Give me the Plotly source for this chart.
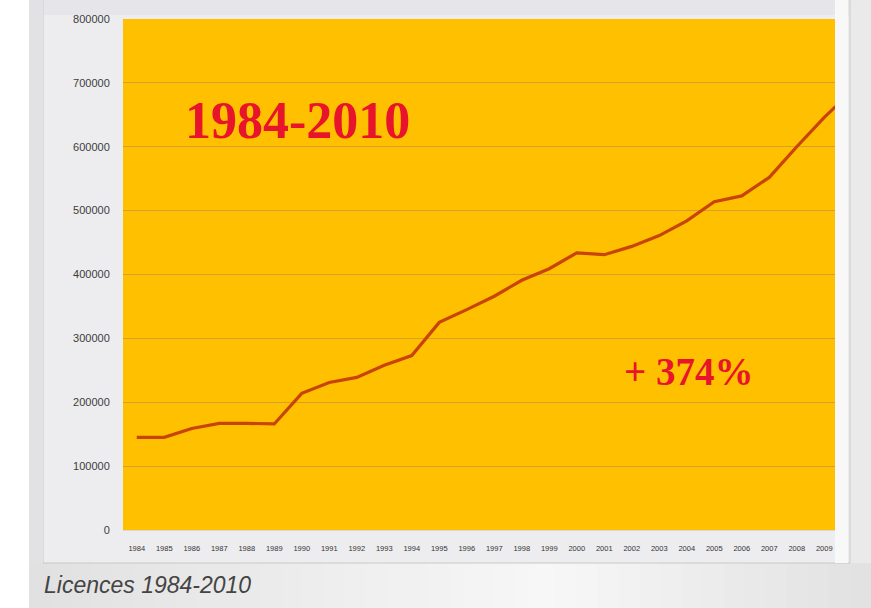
import plotly.graph_objects as go

# ---- data ----
years = ["1984", "1985", "1986", "1987", "1988", "1989", "1990", "1991", "1992",
         "1993", "1994", "1995", "1996", "1997", "1998", "1999", "2000", "2001",
         "2002", "2003", "2004", "2005", "2006", "2007", "2008", "2009", "2010"]
licences = [145000, 145000, 159000, 167000, 167000, 166000, 214000, 231000, 239000,
            258000, 273000, 325000, 345000, 366000, 391000, 409000, 434000, 431000,
            444000, 461000, 484000, 514000, 523000, 552000, 600000, 646000, 687000]
y_tickvals = [0, 100000, 200000, 300000, 400000, 500000, 600000, 700000, 800000]
y_ticktext = ["0", "100000", "200000", "300000", "400000", "500000", "600000", "700000", "800000"]
title_text = "1984-2010"
growth_text = "+ 374%"
caption_text = "Licences 1984-2010"

# ---- layout geometry (pixels) ----
W, H = 871, 608
PL, PR, PT, PB = 123, 835, 19, 530


def px(x):
    return (x - PL) / (PR - PL)


def py(y):
    return (PB - y) / (PB - PT)


def rect(x0, y0, x1, y1, fill, line=None):
    return dict(type="rect", xref="paper", yref="paper", layer="below",
                x0=px(x0), x1=px(x1), y0=py(y1), y1=py(y0),
                fillcolor=fill,
                line=dict(width=1 if line else 0, color=line or "rgba(0,0,0,0)"))


# soft horizontal gradient in the caption strip (light grey -> near white -> grey)
shapes = []
steps = 40
for k in range(steps):
    x0 = 29 + (W - 29) * k / steps
    x1 = 29 + (W - 29) * (k + 1) / steps + 0.5
    t = (k + 0.5) / steps
    # peak brightness around 65% of the width
    d = abs(t - 0.62) / 0.62 if t < 0.62 else abs(t - 0.62) / 0.38
    g = int(round(247 - 22 * d))
    shapes.append(rect(x0, 563, x1, 608, "rgb(%d,%d,%d)" % (g, g, g)))

shapes += [
    rect(43, -5, 850, 563, "#EDEDF0", "#C8C8CA"),
    rect(44, 0, 849, 15, "#E5E5EA"),
    rect(0, 0, 29, 608, "#FFFFFF"),
    rect(29, 0, 43, 563, "#E2E2E4"),
    rect(835, 0, 848, 563, "#F8F8F9"),
    rect(PL, PT, PR, PB, "#FFC000"),
]

fig = go.Figure()
fig.add_trace(go.Scatter(
    x=years, y=licences, mode="lines",
    line=dict(color="#C8440A", width=3.2),
    showlegend=False, hoverinfo="x+y",
))

fig.update_layout(
    width=W, height=H,
    margin=dict(l=PL, r=W - PR, t=PT, b=H - PB),
    paper_bgcolor="#EAEAEA",
    plot_bgcolor="rgba(0,0,0,0)",
    shapes=shapes,
    xaxis=dict(
        type="category",
        range=[-0.5, -0.5 + (PR - PL) / 27.5],
        showgrid=False, zeroline=False,
        showline=True, linecolor="#D8D8D8", linewidth=1,
        ticks="outside", ticklen=11, tickcolor="rgba(0,0,0,0)",
        tickangle=0,
        tickfont=dict(family="Liberation Sans", size=7.5, color="#333333"),
    ),
    yaxis=dict(
        range=[0, 800000],
        tickvals=y_tickvals, ticktext=y_ticktext,
        showgrid=True, gridcolor="#D2A22C", gridwidth=1.3,
        zeroline=False, showline=False,
        ticks="outside", ticklen=10, tickcolor="rgba(0,0,0,0)",
        tickfont=dict(family="Liberation Sans", size=11, color="#3C3C3C"),
    ),
    annotations=[
        dict(xref="paper", yref="paper", x=px(297), y=py(120),
             text="<b>" + title_text + "</b>", showarrow=False,
             xanchor="center", yanchor="middle",
             font=dict(family="Liberation Serif", size=52, color="#E8142C")),
        dict(xref="paper", yref="paper", x=px(688), y=py(371),
             text="<b>" + growth_text + "</b>", showarrow=False,
             xanchor="center", yanchor="middle",
             font=dict(family="Liberation Serif", size=39, color="#E8142C")),
        dict(xref="paper", yref="paper", x=px(42), y=py(585),
             text="<i>" + caption_text + "</i>", showarrow=False,
             xanchor="left", yanchor="middle",
             font=dict(family="Liberation Sans", size=23, color="#444444")),
    ],
)

fig.write_html(
    "out.html",
    config={"displayModeBar": False},
    post_script="document.body.style.margin='0';document.body.style.overflow='hidden';",
)
